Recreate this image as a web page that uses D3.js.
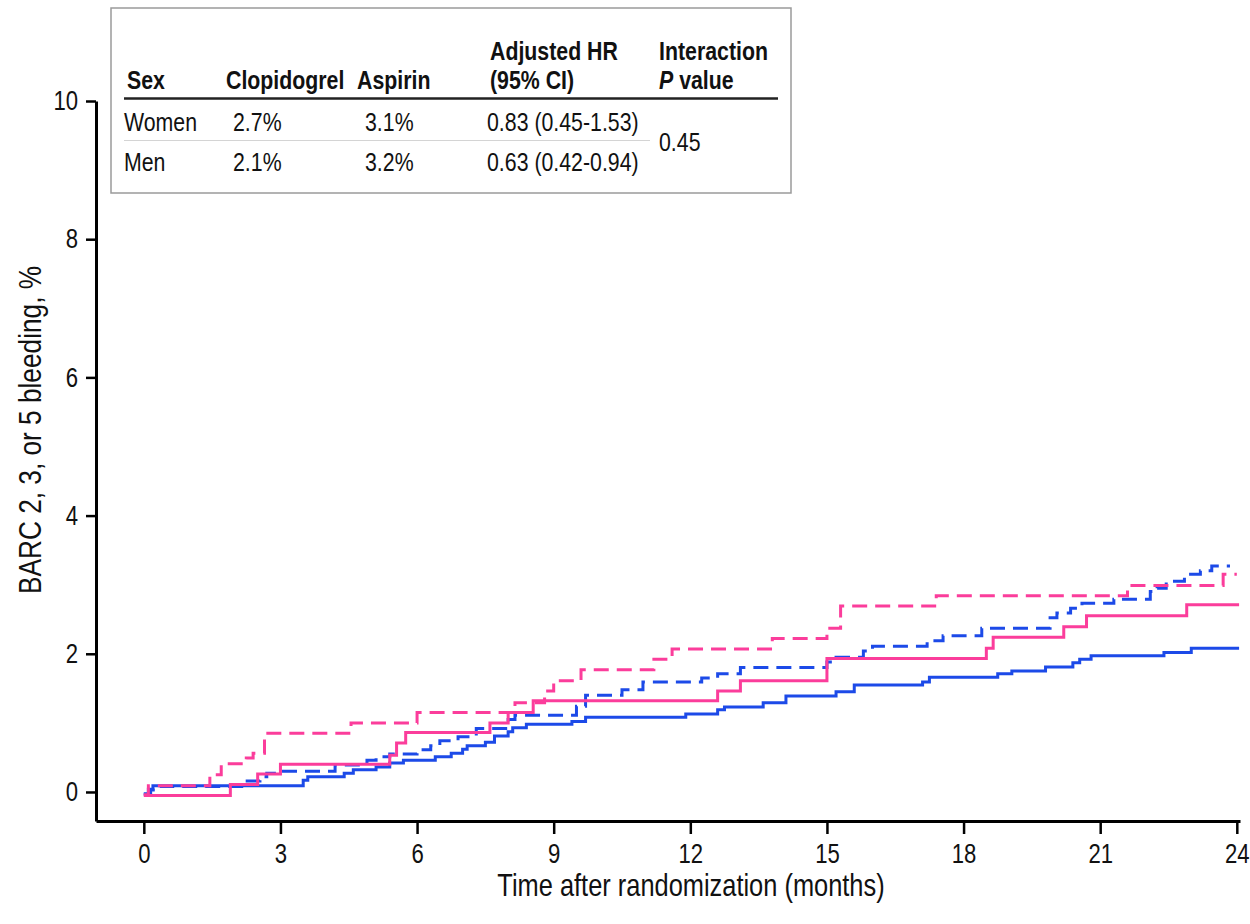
<!DOCTYPE html>
<html>
<head>
<meta charset="utf-8">
<script src="https://cdn.jsdelivr.net/npm/d3@7/dist/d3.min.js"></script>
<style>
  body { margin: 0; background: #fff; }
  svg text { font-family: "Liberation Sans", Arial, sans-serif; fill: #111; }
</style>
</head>
<body>
<svg id="chart" width="1250" height="924"></svg>
<script>
// ticks
const monthTicks = [0, 3, 6, 9, 12, 15, 18, 21, 24]
const pctTicks = [0, 2, 4, 6, 8, 10]

// Kaplan-Meier steps (month, cumulative %)
const womenClopiMonths = [0, 1.9, 2.5, 3.0, 5.4, 5.55, 5.75, 7.6, 8.0, 8.55, 12.6, 13.1, 15.0, 18.5, 18.65, 20.2, 20.7, 22.9, 24.05]
const womenClopiPct = [-0.05, 0.11, 0.26, 0.40, 0.53, 0.71, 0.86, 1.00, 1.15, 1.32, 1.46, 1.61, 1.93, 2.08, 2.24, 2.39, 2.55, 2.71, 2.71]

const womenAspMonths = [0, 0.1, 1.45, 1.7, 2.25, 2.4, 2.65, 4.55, 6.0, 8.15, 8.8, 9.0, 9.6, 11.2, 11.6, 13.8, 15.0, 15.3, 17.4, 21.6, 23.7, 24.0]
const womenAspPct = [-0.04, 0.09, 0.25, 0.41, 0.49, 0.56, 0.85, 1.00, 1.15, 1.29, 1.46, 1.61, 1.77, 1.92, 2.07, 2.22, 2.37, 2.69, 2.84, 2.99, 3.15, 3.15]

const menClopiMonths = [0, 0.1, 0.2, 3.5, 3.6, 4.4, 4.6, 5.1, 5.4, 5.7, 6.4, 6.75, 7.0, 7.1, 7.5, 7.7, 8.0, 8.1, 8.4, 9.4, 9.7, 11.9, 12.6, 12.75, 13.6, 14.1, 15.2, 15.6, 17.1, 17.25, 18.75, 19.06, 19.8, 20.4, 20.55, 20.8, 22.4, 23.0, 24.05]
const menClopiPct = [-0.03, 0.04, 0.09, 0.17, 0.22, 0.27, 0.32, 0.36, 0.42, 0.46, 0.51, 0.56, 0.62, 0.67, 0.72, 0.81, 0.87, 0.93, 0.98, 1.02, 1.08, 1.13, 1.19, 1.23, 1.29, 1.39, 1.45, 1.55, 1.59, 1.66, 1.71, 1.75, 1.81, 1.87, 1.92, 1.97, 2.02, 2.08, 2.08]

const menAspMonths = [0, 0.15, 0.35, 2.15, 2.55, 2.7, 2.9, 4.2, 4.9, 5.1, 5.4, 6.0, 6.3, 6.5, 6.9, 7.3, 8.0, 8.15, 9.5, 9.7, 10.5, 10.96, 12.25, 12.6, 13.1, 15.0, 15.2, 15.8, 16.0, 17.2, 17.55, 18.4, 19.9, 20.05, 20.35, 20.6, 21.3, 22.1, 22.25, 22.45, 22.85, 23.2, 23.45, 23.85]
const menAspPct = [-0.03, 0.03, 0.08, 0.16, 0.22, 0.27, 0.30, 0.39, 0.46, 0.51, 0.55, 0.61, 0.67, 0.74, 0.80, 0.92, 1.05, 1.11, 1.24, 1.40, 1.48, 1.59, 1.65, 1.71, 1.80, 1.88, 1.95, 2.04, 2.11, 2.19, 2.26, 2.37, 2.52, 2.59, 2.66, 2.73, 2.79, 2.90, 2.95, 3.05, 3.15, 3.20, 3.27, 3.27]

// inset table
const tableSex = ['Women', 'Men']
const tableClopi = ['2.7%', '2.1%']
const tableAspirin = ['3.1%', '3.2%']
const tableHR = ['0.83 (0.45-1.53)', '0.63 (0.42-0.94)']
const interactionP = '0.45'

const pink = '#fb3d9b'
const blue = '#1c4ae8'
// the figure uses a narrow face; squeeze Liberation Sans to match
const narrow = 0.82

const svg = d3.select('#chart')

const x = d3.scaleLinear().domain([-1.05, 24.07]).range([96, 1240])
const y = d3.scaleLinear().domain([-0.42, 10]).range([821, 101])

// axes
const xAxis = svg.append('g')
  .attr('transform', 'translate(0,821)')
  .call(d3.axisBottom(x).tickValues(monthTicks).tickSize(13).tickSizeOuter(0).tickPadding(10))
const yAxis = svg.append('g')
  .attr('transform', 'translate(96,0)')
  .call(d3.axisLeft(y).tickValues(pctTicks).tickSize(10).tickSizeOuter(0).tickPadding(8))

;[xAxis, yAxis].forEach(g => {
  g.select('.domain').attr('stroke', '#000').attr('stroke-width', 3)
  g.selectAll('.tick line').attr('stroke', '#000').attr('stroke-width', 2.5)
  g.selectAll('.tick text')
    .style('font-size', '27px')
    .attr('fill', '#111')
    .attr('transform', `scale(${narrow},1)`)
})
yAxis.selectAll('.tick text').attr('x', -18 / narrow)

// place a squeezed text label
function label(parent, px, py, str, anchor) {
  return parent.append('text')
    .attr('transform', `translate(${px},${py}) scale(${narrow},1)`)
    .attr('text-anchor', anchor || 'start')
    .text(str)
}

label(svg, 691, 896, 'Time after randomization (months)', 'middle').style('font-size', '31px')

svg.append('text')
  .attr('transform', `translate(41,430) rotate(-90) scale(${narrow},1)`)
  .attr('text-anchor', 'middle')
  .style('font-size', '32px')
  .text('BARC 2, 3, or 5 bleeding, %')

// curves
const zip = (t, v) => t.map((m, i) => [m, v[i]])
const line = d3.line().x(d => x(d[0])).y(d => y(d[1])).curve(d3.curveStepAfter)

const series = [
  { data: zip(menAspMonths, menAspPct), color: blue, dash: '15,8' },
  { data: zip(menClopiMonths, menClopiPct), color: blue, dash: null },
  { data: zip(womenAspMonths, womenAspPct), color: pink, dash: '15,8' },
  { data: zip(womenClopiMonths, womenClopiPct), color: pink, dash: null }
]

svg.append('g').selectAll('path')
  .data(series)
  .join('path')
  .attr('d', d => line(d.data))
  .attr('fill', 'none')
  .attr('stroke', d => d.color)
  .attr('stroke-width', 3)
  .attr('stroke-dasharray', d => d.dash)

// table
const tbl = svg.append('g')
tbl.append('rect')
  .attr('x', 111).attr('y', 8).attr('width', 680).attr('height', 185)
  .attr('fill', '#fff').attr('stroke', '#9a9a9a').attr('stroke-width', 1.5)

const head = tbl.append('g').style('font-size', '26px').style('font-weight', 'bold')
label(head, 127, 89, 'Sex')
label(head, 226, 89, 'Clopidogrel')
label(head, 357, 89, 'Aspirin')
label(head, 490, 60, 'Adjusted HR')
label(head, 490, 89, '(95% CI)')
label(head, 659, 60, 'Interaction')
const pv = label(head, 659, 89, '')
pv.append('tspan').style('font-style', 'italic').text('P')
pv.append('tspan').text(' value')

tbl.append('line')
  .attr('x1', 124).attr('x2', 778).attr('y1', 98.5).attr('y2', 98.5)
  .attr('stroke', '#222').attr('stroke-width', 2.5)
tbl.append('line')
  .attr('x1', 124).attr('x2', 650).attr('y1', 140.5).attr('y2', 140.5)
  .attr('stroke', '#d4d4d4').attr('stroke-width', 1)

const rows = tbl.append('g').style('font-size', '26px')
const rowY = [131, 171]
tableSex.forEach((s, i) => {
  label(rows, 124, rowY[i], s)
  label(rows, 233, rowY[i], tableClopi[i])
  label(rows, 365, rowY[i], tableAspirin[i])
  label(rows, 487, rowY[i], tableHR[i])
})
label(rows, 659, 151, interactionP)
</script>
</body>
</html>
